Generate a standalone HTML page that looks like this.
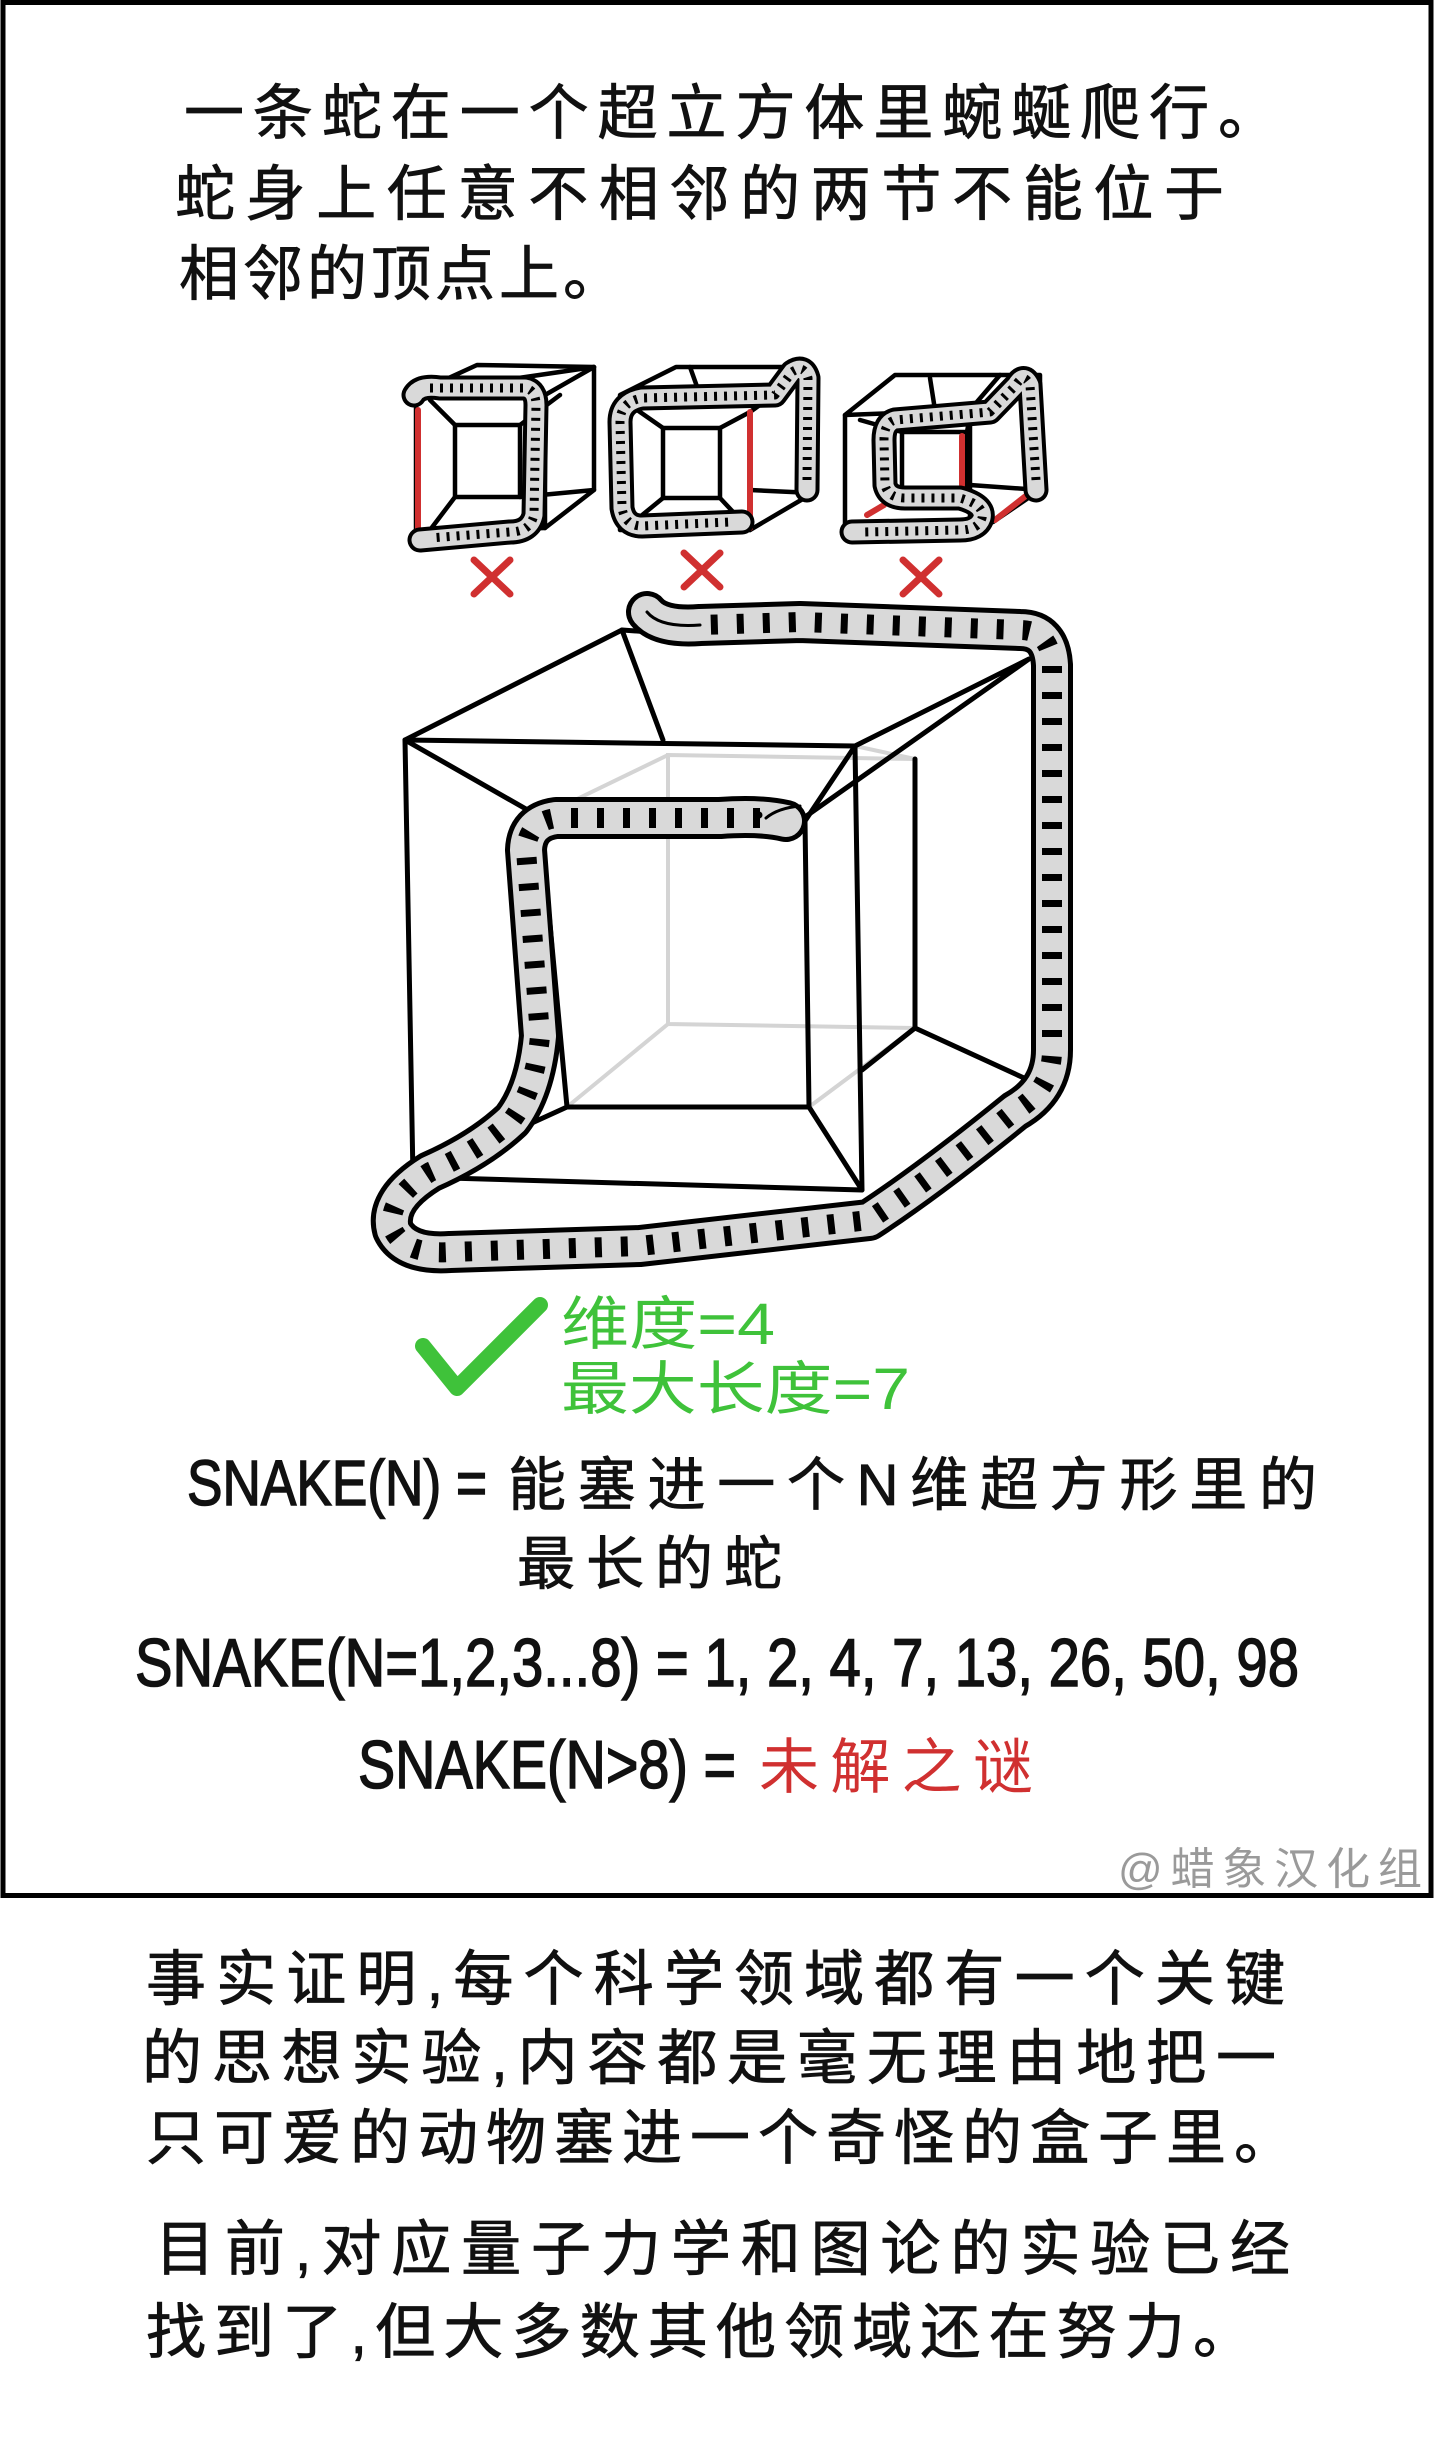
<!DOCTYPE html>
<html><head><meta charset="utf-8"><style>
html,body{margin:0;padding:0;background:#fff;}
svg{display:block;}
</style></head><body>
<svg width="1434" height="2444" viewBox="0 0 1434 2444" xmlns="http://www.w3.org/2000/svg">
<rect x="0" y="0" width="1434" height="2444" fill="#fff"/>
<rect x="3" y="2.5" width="1428" height="1893" fill="none" stroke="#000" stroke-width="5"/>

<g font-family="Liberation Sans, Noto Sans CJK SC, sans-serif" fill="#111" stroke="#111" stroke-width="0.8">
<text x="184" y="134" font-size="60" textLength="1094" lengthAdjust="spacing">一条蛇在一个超立方体里蜿蜒爬行。</text>
<text x="175" y="215" font-size="60" textLength="1049" lengthAdjust="spacing">蛇身上任意不相邻的两节不能位于</text>
<text x="179" y="295" font-size="60" textLength="444" lengthAdjust="spacing">相邻的顶点上。</text>
</g>

<!-- small cubes -->
<g fill="none" stroke="#000" stroke-width="4.5" stroke-linejoin="round" stroke-linecap="round">
 <path d="M416,393 L477,365 L594,367 L594,490 L545,528 L416,532 Z"/>
 <path d="M416,393 L594,367"/>
 <rect x="455" y="425" width="65" height="72"/>
 <path d="M430,400 L455,425 M560,395 L520,425 M594,490 L520,497 M430,530 L455,497 M594,367 L545,395 L545,528"/>
 <path d="M620,395 L676,367 L813,367 L813,493 L750,530 L620,530 Z"/>
 <rect x="663" y="428" width="57" height="70"/>
 <path d="M630,405 L663,428 M750,412 L720,428 M750,530 L720,498 M630,525 L663,498 M813,367 L750,412 M813,493 L750,490 M690,367 L700,395"/>
 <path d="M845,415 L895,375 L1000,375 L1040,375 L1040,490 L993,522 L845,530 Z"/>
 <path d="M845,415 L970,410 L1000,375 M970,410 L970,520 M930,378 L935,410"/>
 <rect x="902" y="432" width="65" height="56"/>
 <path d="M860,420 L902,432 M970,415 L967,432 M1040,490 L970,485"/>
</g>
<g stroke="#d03030" stroke-width="6" stroke-linecap="round" fill="none">
 <path d="M418,410 L418,530"/>
 <path d="M750,412 L750,528"/>
 <path d="M962,436 L962,485 M867,515 L884,505 M995,520 L1027,495"/>
</g>
<g fill="none" stroke-linecap="round" stroke-linejoin="round">
 <g stroke="#000" stroke-width="25">
  <path d="M414,395 Q420,385 440,388 L525,388 Q536,390 536,405 L534,515 Q530,532 510,532 L420,540"/>
  <path d="M807,490 L808,378 Q804,364 792,372 L775,395 L642,398 Q620,402 620,422 L622,508 Q625,526 642,526 L742,522"/>
  <path d="M1036,490 L1030,385 Q1024,372 1016,385 L990,412 L895,420 Q884,423 884,440 L885,485 Q888,498 905,498 L960,498 Q985,505 982,518 Q978,530 960,530 L852,532"/>
 </g>
 <g stroke="#d9d9d9" stroke-width="17">
  <path d="M414,395 Q420,385 440,388 L525,388 Q536,390 536,405 L534,515 Q530,532 510,532 L420,540"/>
  <path d="M807,490 L808,378 Q804,364 792,372 L775,395 L642,398 Q620,402 620,422 L622,508 Q625,526 642,526 L742,522"/>
  <path d="M1036,490 L1030,385 Q1024,372 1016,385 L990,412 L895,420 Q884,423 884,440 L885,485 Q888,498 905,498 L960,498 Q985,505 982,518 Q978,530 960,530 L852,532"/>
 </g>
 <g stroke="#000" stroke-width="9" stroke-dasharray="3 7" stroke-linecap="butt">
  <path d="M430,388 L525,388 Q536,390 536,405 L534,515 Q530,532 510,532 L430,538"/>
  <path d="M807,480 L808,378 Q804,364 792,372 L775,395 L642,398 Q620,402 620,422 L622,508 Q625,526 642,526 L730,522"/>
  <path d="M1036,480 L1030,385 Q1024,372 1016,385 L990,412 L895,420 Q884,423 884,440 L885,485 Q888,498 905,498 L960,498 Q985,505 982,518 Q978,530 960,530 L865,532"/>
 </g>
</g>
<g stroke="#d03030" stroke-width="7" stroke-linecap="round">
 <path d="M474,560 L510,594 M510,560 L474,594"/>
 <path d="M684,553 L720,587 M720,553 L684,587"/>
 <path d="M903,560 L939,594 M939,560 L903,594"/>
</g>

<!-- big cube gray -->
<g stroke="#d4d4d4" stroke-width="4" fill="none">
 <path d="M668,755 L915,759 L915,1028 L668,1024 Z"/>
 <path d="M668,755 L540,817 M668,1024 L567,1107 M915,1028 L809,1107 M855,746 L915,759"/>
</g>
<g stroke="#000" stroke-width="5" fill="none" stroke-linejoin="round" stroke-linecap="round">
 <path d="M405,740 L855,746 L862,1190 L413,1177 Z"/>
 <path d="M540,817 L805,821 L809,1107 L567,1107 Z"/>
 <path d="M405,740 L540,817 M855,746 L805,821 M862,1190 L809,1107 M413,1177 L567,1107"/>
 <path d="M405,740 L622,630 L663,740"/>
 <path d="M622,630 L650,632"/>
 <path d="M1029,659 L855,746 M1029,659 L805,817"/>
 <path d="M915,759 L915,1028 L1024,1078 M915,1028 L862,1070"/>
</g>

<!-- big snake -->
<g fill="none" stroke-linecap="round" stroke-linejoin="round">
 <path d="M786,821 Q760,815 720,818 L556,818 Q527,822 526,850 L540,1036 Q535,1090 512,1120 Q480,1150 430,1172 Q385,1200 393,1230 Q405,1255 450,1252 L640,1246 L869,1220 Q930,1180 1015,1111 Q1052,1090 1052,1050 L1052,829 L1052,665 Q1050,630 1020,630 L800,622 L700,625 Q660,628 647,612" stroke="#000" stroke-width="42"/>
 <path d="M786,821 Q760,815 720,818 L556,818 Q527,822 526,850 L540,1036 Q535,1090 512,1120 Q480,1150 430,1172 Q385,1200 393,1230 Q405,1255 450,1252 L640,1246 L869,1220 Q930,1180 1015,1111 Q1052,1090 1052,1050 L1052,829 L1052,665 Q1050,630 1020,630 L800,622 L700,625 Q660,628 647,612" stroke="#d9d9d9" stroke-width="32"/>
 <path d="M760,818 L720,818 L556,818 Q527,822 526,850 L540,1036 Q535,1090 512,1120 Q480,1150 430,1172 Q385,1200 393,1230 Q405,1255 450,1252 L640,1246 L869,1220 Q930,1180 1015,1111 Q1052,1090 1052,1050 L1052,829 L1052,665 Q1050,630 1020,630 L800,622 L700,625" stroke="#000" stroke-width="20" stroke-dasharray="7 19" stroke-linecap="butt"/>
 <path d="M800,806 Q778,808 766,818 M700,625 Q660,628 647,612" stroke="#000" stroke-width="3"/>
</g>
<circle cx="759" cy="815" r="3.5" fill="#000"/>

<!-- green -->
<path d="M423,1346 L457,1388 L540,1305" fill="none" stroke="#3fc23a" stroke-width="16" stroke-linecap="round" stroke-linejoin="round"/>
<g font-family="Liberation Sans, Noto Sans CJK SC, sans-serif" fill="#3fc23a" font-size="58">
<text x="561" y="1344" textLength="214" lengthAdjust="spacingAndGlyphs">维度=4</text>
<text x="561" y="1409" textLength="349" lengthAdjust="spacingAndGlyphs">最大长度=7</text>
</g>

<g font-family="Liberation Sans, Noto Sans CJK SC, sans-serif" fill="#111">
<text x="187" y="1505" font-size="64" stroke="#111" stroke-width="1.5" textLength="300" lengthAdjust="spacingAndGlyphs">SNAKE(N) =</text>
<text x="508" y="1505" font-size="58" stroke="#111" stroke-width="0.8" textLength="809" lengthAdjust="spacing">能塞进一个N维超方形里的</text>
<text x="517" y="1584" font-size="58" stroke="#111" stroke-width="0.8" textLength="265" lengthAdjust="spacing">最长的蛇</text>
<text x="135" y="1686" font-size="68" stroke="#111" stroke-width="1.5" textLength="1164" lengthAdjust="spacingAndGlyphs">SNAKE(N=1,2,3...8) = 1, 2, 4, 7, 13, 26, 50, 98</text>
<text x="358" y="1788" font-size="68" stroke="#111" stroke-width="1.5" textLength="378" lengthAdjust="spacingAndGlyphs">SNAKE(N&gt;8) =</text>
<text x="759" y="1788" font-size="60" fill="#d03030" textLength="274" lengthAdjust="spacing">未解之谜</text>
<text x="1118" y="1884" font-size="44" fill="#9a9a9a" textLength="304" lengthAdjust="spacing">@蜡象汉化组</text>
</g>
<g font-family="Liberation Sans, Noto Sans CJK SC, sans-serif" fill="#111" stroke="#111" stroke-width="0.8" font-size="60">
<text x="146" y="2000" textLength="1139" lengthAdjust="spacing">事实证明,每个科学领域都有一个关键</text>
<text x="142" y="2079" textLength="1134" lengthAdjust="spacing">的思想实验,内容都是毫无理由地把一</text>
<text x="146" y="2159" textLength="1148" lengthAdjust="spacing">只可爱的动物塞进一个奇怪的盒子里。</text>
<text x="155" y="2270" textLength="1135" lengthAdjust="spacing">目前,对应量子力学和图论的实验已经</text>
<text x="146" y="2353" textLength="1107" lengthAdjust="spacing">找到了,但大多数其他领域还在努力。</text>
</g>
</svg>
</body></html>
